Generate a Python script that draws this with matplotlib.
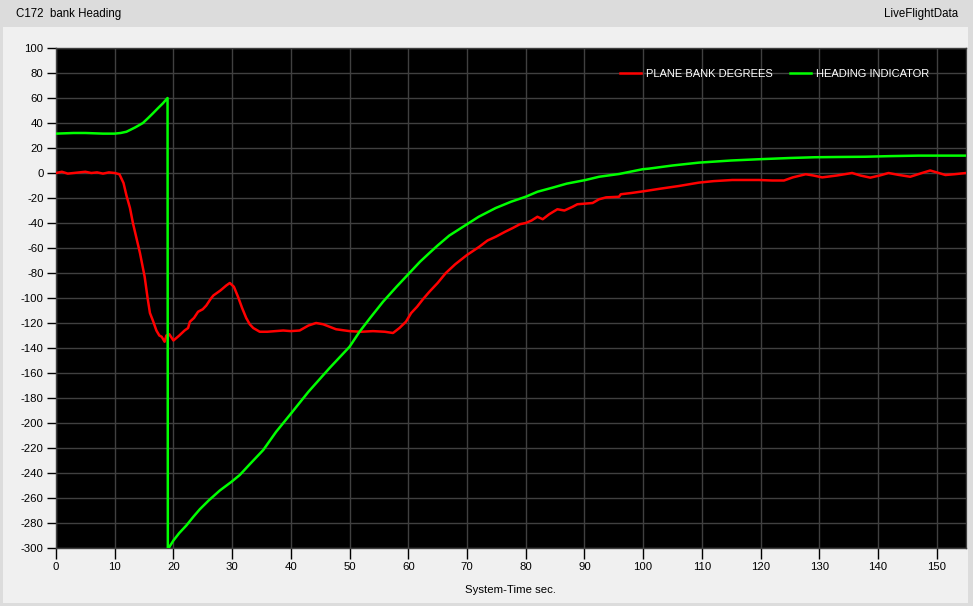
import matplotlib
matplotlib.use("Agg")
import matplotlib.pyplot as plt
from matplotlib.patches import Rectangle

plt.rcParams['font.family'] = ['Liberation Sans', 'DejaVu Sans']
plt.rcParams['axes.unicode_minus'] = False

title_left = "C172  bank Heading"
title_right = "LiveFlightData"
x_label = "System-Time sec."
bank_label = "PLANE BANK DEGREES"
heading_label = "HEADING INDICATOR"

x_ticks = list(range(0, 151, 10))
y_ticks = list(range(-300, 101, 20))

bank_t = [0, 1, 2, 3, 4, 5, 6, 7, 8, 9, 10, 10.8, 11.5, 12, 12.6, 13.1, 13.7, 14.3,
          15.1, 15.6, 16, 16.5, 17.1, 17.6, 18, 18.5, 18.8, 19.3, 20, 21, 21.9, 22.5,
          22.8, 23.5, 24.2, 25, 25.6, 26.3, 26.8, 28, 29, 29.6, 30.3, 31, 31.7, 32.4,
          33, 33.6, 34.7, 36, 38.7, 40, 41.5, 43, 44.3, 45.5, 46.6, 47.7, 50, 52, 54,
          56, 57.4, 58.5, 59.6, 60.5, 61.5, 62.5, 63.6, 65, 66.4, 68, 70, 72.1, 73.5,
          74.9, 76.5, 77.8, 79, 80, 81, 82, 82.9, 84, 85.4, 86.6, 88, 88.8, 91.4, 92.5,
          93.7, 95.9, 96.2, 98, 100.4, 103, 106.1, 109.5, 112, 115.2, 119.7, 122, 124,
          125.5, 127.7, 129, 130.5, 133, 135.6, 137, 138.7, 140.3, 141.8, 143.5, 145.5,
          147.5, 148.9, 150, 151.5, 153, 155]
bank_v = [0, 1, -0.5, 0, 0.5, 1, 0, 0.5, -0.5, 0.5, 0, -1, -8, -18, -28, -40, -52, -64,
          -83, -100, -112, -118, -126, -130, -131, -135, -130, -129, -134, -130, -126, -124,
          -119, -116, -111, -109, -106, -101, -98, -94, -90, -88, -91, -99, -108, -116,
          -121, -124, -127, -127, -126, -126.5, -126, -122, -120, -121, -123, -125, -126.5, -127, -126.5,
          -127, -128, -124, -119, -112, -107, -101, -95, -88, -80, -73, -65.6, -59, -54,
          -51, -47, -44, -41, -40, -38, -35, -37, -33, -29, -30, -27, -25, -24, -21,
          -19.5, -19, -17, -16, -14.4, -12.5, -10.4, -7.7, -6.5, -5.6, -5.6, -6, -6,
          -3.5, -1, -2, -3.5, -2, 0, -2, -3.7, -2, 0, -1.5, -3,
          0, 2, 0.5, -1.6, -1, 0]

heading_t = [0, 3, 5, 8, 10, 11, 12, 12.6, 13.5, 14.8, 15.7, 16.5, 17.4, 18.2, 19.0,
             19.05, 19.2, 20, 21, 22.2, 23.4, 24.5, 26, 27.9, 29.9, 31.3, 33, 35.3, 37.5,
             40.1, 43, 46.6, 50, 51.7, 53.5, 55.7, 58, 60.2, 62, 63.6, 65, 67, 69.8, 72,
             74.9, 77.5, 80, 82, 84.6, 87, 90.2, 92.5, 95.9, 99.9, 101, 105, 109.5, 115,
             119.7, 125, 129.2, 133, 137.8, 142, 146.9, 155]
heading_v = [31.5, 32, 32, 31.5, 31.5, 32, 33, 34.4, 36.5, 40, 44, 47.7, 52, 55.7, 60,
             -300, -300, -294, -288, -282, -275, -269, -262, -254, -247, -241.6, -233, -221.6, -207,
             -192, -175, -156, -139, -127, -116, -103, -91, -80, -71, -64, -58, -50, -41.6, -35,
             -28, -23, -19, -15, -11.7, -8.5, -5.6, -3, -0.8, 3, 3.5, 6, 8.3, 10,
             11, 12, 12.6, 12.8, 13, 13.5, 13.9, 13.9]

W, H, DPI = 973, 606, 100
fig = plt.figure(figsize=(W / DPI, H / DPI), dpi=DPI)
fig.patch.set_facecolor('#f0f0f0')

# window frame
fig.patches.append(Rectangle((0, 1 - 27 / H), 1, 27 / H, transform=fig.transFigure,
                             facecolor='#dcdcdc', edgecolor='none', zorder=0))
fig.patches.append(Rectangle((0, 0), 3 / W, 1, transform=fig.transFigure,
                             facecolor='#dcdcdc', edgecolor='none', zorder=0))
fig.patches.append(Rectangle((1 - 5 / W, 0), 5 / W, 1, transform=fig.transFigure,
                             facecolor='#dcdcdc', edgecolor='none', zorder=0))
fig.patches.append(Rectangle((0, 0), 1, 3 / H, transform=fig.transFigure,
                             facecolor='#dcdcdc', edgecolor='none', zorder=0))

fig.text(16 / W, 1 - 14 / H, title_left, fontsize=8.3, ha='left', va='center', color='black')
fig.text(958 / W, 1 - 14 / H, title_right, fontsize=8.3, ha='right', va='center', color='black')

ax = fig.add_axes([56 / W, (H - 548) / H, 910 / W, 500 / H])
ax.set_facecolor('black')
ax.set_xlim(0, 155)
ax.set_ylim(-300, 100)
ax.set_xticks(x_ticks)
ax.set_yticks(y_ticks)
ax.grid(True, color='#404040', linewidth=1.0)
ax.set_axisbelow(True)
for s in ax.spines.values():
    s.set_color('#404040')
    s.set_linewidth(1.0)
ax.tick_params(axis='x', length=8, width=1, color='black', pad=2, labelsize=8.2)
ax.tick_params(axis='y', length=6.5, width=1, color='black', pad=2.5, labelsize=8.2)

ax.plot(bank_t, bank_v, color='#ff0000', linewidth=1.8, label=bank_label, zorder=3)
ax.plot(heading_t, heading_v, color='#00ff00', linewidth=1.8, label=heading_label, zorder=3)

leg = ax.legend(ncol=2, loc='center left', bbox_to_anchor=((620 - 56) / 910, (548 - 74) / 500),
                frameon=False, fontsize=8.0, borderpad=0, borderaxespad=0,
                handlelength=1.9, handletextpad=0.45, columnspacing=1.5)
for t in leg.get_texts():
    t.set_color('white')

fig.text(511 / W, 1 - 590 / H, x_label, fontsize=8.2, ha='center', va='center', color='black')

fig.savefig('out.png', dpi=DPI, facecolor=fig.get_facecolor())
